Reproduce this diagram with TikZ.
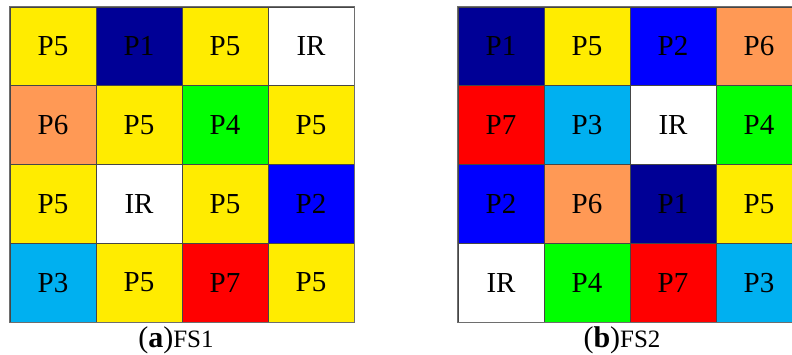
\documentclass[tikz,border=0pt]{standalone}
\usepackage{fontspec}
\setmainfont{Liberation Serif}
\definecolor{cY}{RGB}{255,236,0}
\definecolor{cDB}{RGB}{0,0,150}
\definecolor{cB}{RGB}{0,0,255}
\definecolor{cG}{RGB}{0,255,0}
\definecolor{cR}{RGB}{255,0,0}
\definecolor{cO}{RGB}{255,153,85}
\definecolor{cC}{RGB}{0,176,240}
\definecolor{cW}{RGB}{255,255,255}
\definecolor{lineg}{RGB}{70,70,70}
\definecolor{borderg}{RGB}{110,110,110}
\begin{document}
\begin{tikzpicture}[x=1pt,y=-1pt,
  cell/.style={draw=lineg,line width=0.8pt,minimum width=86pt,minimum height=78.75pt,inner sep=0pt,
    font=\fontsize{29}{30}\selectfont,text=black},
  caption/.style={anchor=base,inner sep=0pt}]
\useasboundingbox (0,0) rectangle (792,354);
\clip (0,0) rectangle (792,354);
\fill[white] (0,0) rectangle (792,354);
% grid a
\foreach \t/\c [count=\k from 0] in {P5/cY,P1/cDB,P5/cY,IR/cW,P6/cO,P5/cY,P4/cG,P5/cY,P5/cY,IR/cW,P5/cY,P2/cB,P3/cC,P5/cY,P7/cR,P5/cY}{
  \pgfmathtruncatemacro\row{int(\k/4)}
  \pgfmathtruncatemacro\col{mod(\k,4)}
  \node[cell,fill=\c] (a-\row-\col) at ({53+86*\col},{46.375+78.75*\row}) {\t};
}
% grid b
\foreach \t/\c [count=\k from 0] in {P1/cDB,P5/cY,P2/cB,P6/cO,P7/cR,P3/cC,IR/cW,P4/cG,P2/cB,P6/cO,P1/cDB,P5/cY,IR/cW,P4/cG,P7/cR,P3/cC}{
  \pgfmathtruncatemacro\row{int(\k/4)}
  \pgfmathtruncatemacro\col{mod(\k,4)}
  \node[cell,fill=\c] (b-\row-\col) at ({501+86*\col},{46.375+78.75*\row}) {\t};
}
\draw[borderg,line width=1pt] (a-0-0.north west) rectangle (a-3-3.south east);
\draw[borderg,line width=1pt] (b-0-0.north west) rectangle (b-3-3.south east);
% captions
\node[caption] (capa) at (176,347) {\fontsize{30}{32}\selectfont(\textbf{a})\fontsize{25}{28}\selectfont FS1};
\node[caption] (capb) at (622,347) {\fontsize{30}{32}\selectfont(\textbf{b})\fontsize{25}{28}\selectfont FS2};
\end{tikzpicture}
\end{document}
